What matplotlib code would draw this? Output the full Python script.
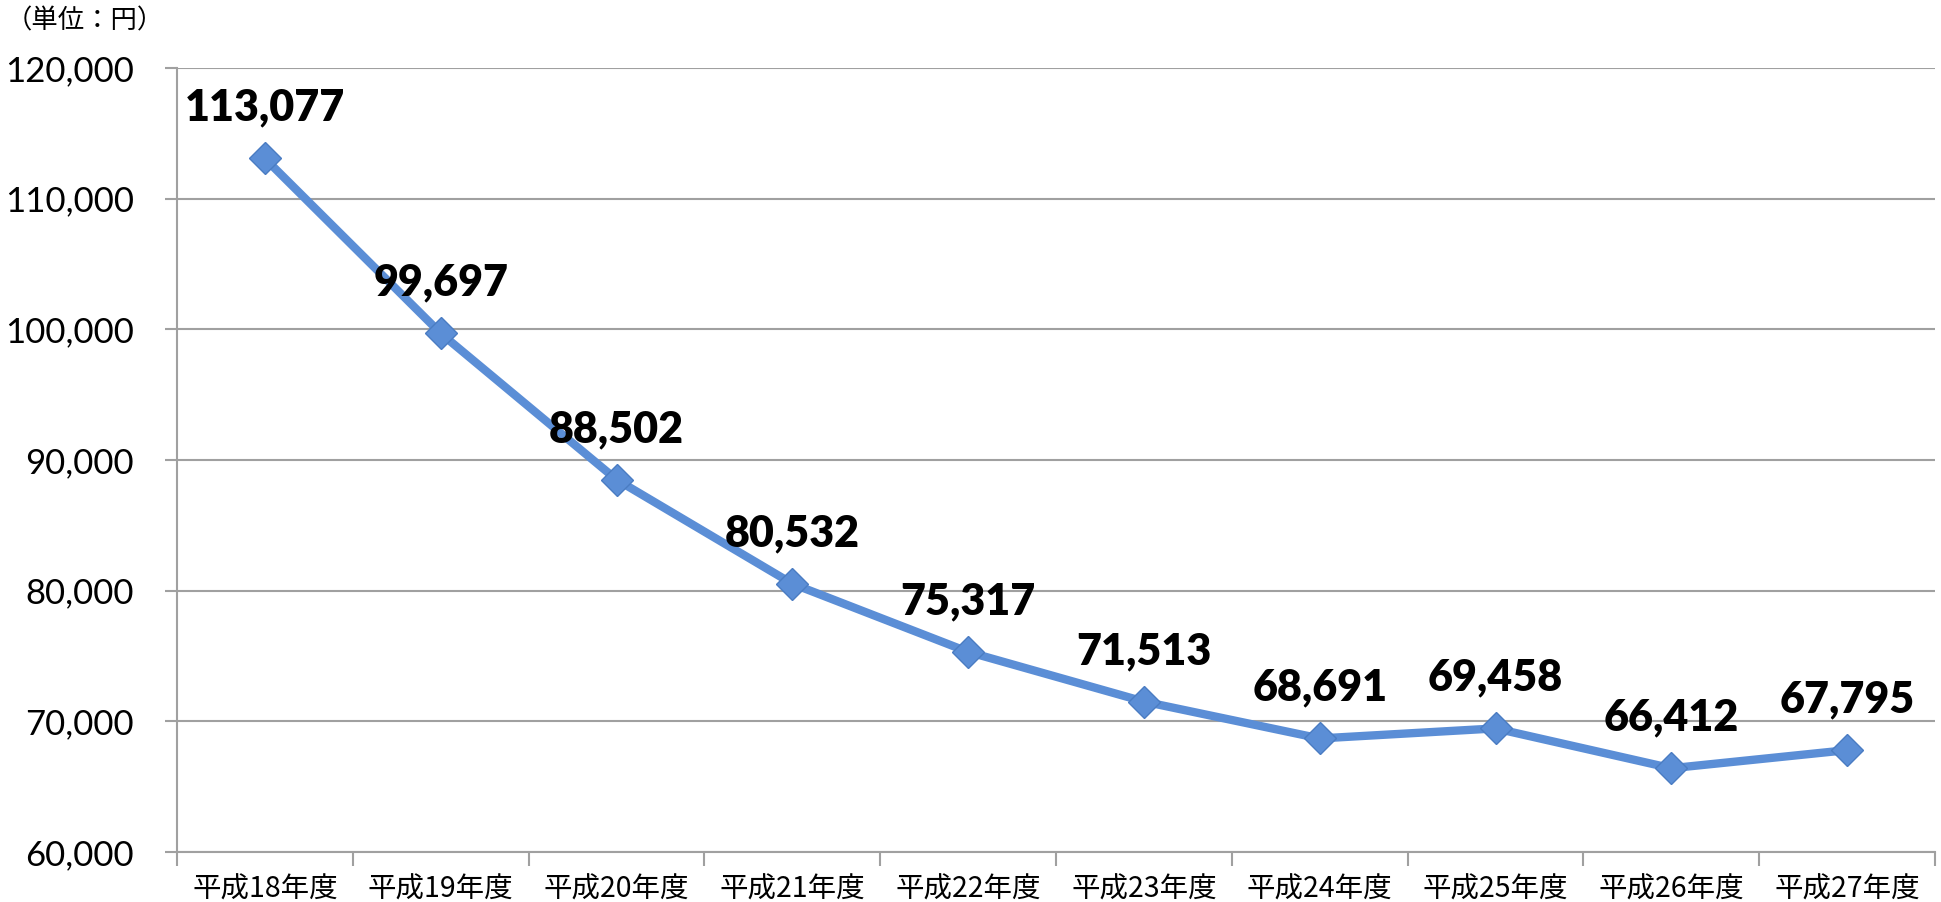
import numpy as np
import matplotlib.pyplot as plt
from matplotlib.ticker import FuncFormatter

# Data
years = ['平成18年度', '平成19年度', '平成20年度', '平成21年度', '平成22年度',
         '平成23年度', '平成24年度', '平成25年度', '平成26年度', '平成27年度']
values = [113077, 99697, 88502, 80532, 75317, 71513, 68691, 69458, 66412, 67795]

plt.rcParams['font.family'] = ['Noto Sans CJK JP', 'DejaVu Sans']

fig = plt.figure(figsize=(19.41, 9.02), dpi=100)
ax = fig.add_axes([177 / 1941, 1 - 852 / 902, (1935 - 177) / 1941, (852 - 68) / 902])

x = np.arange(len(years))
ax.plot(x, values, color='#5B8ED6', linewidth=6, marker='D', markersize=16,
        markerfacecolor='#5B8ED6', markeredgecolor='#4A7CC2', zorder=3)

# Data labels
for xi, v in zip(x, values):
    ax.annotate(f'{v:,}', (xi, v), xytext=(0, 22), textcoords='offset points',
                ha='center', va='bottom', fontsize=31, fontweight='heavy',
                family=['Lato', 'DejaVu Sans'], color='black')

ax.set_xlim(-0.5, len(years) - 0.5)
ax.set_ylim(60000, 120000)
ax.set_yticks(np.arange(60000, 120001, 10000))
ax.yaxis.set_major_formatter(FuncFormatter(lambda v, p: f'{int(v):,}'))
ax.grid(axis='y', color='#A0A0A0', linewidth=1.5)
ax.set_axisbelow(True)

# Category boundaries as ticks, labels at the centres
ax.set_xticks(np.arange(-0.5, len(years)), minor=False)
ax.set_xticklabels([])
ax.set_xticks(x, minor=True)
ax.set_xticklabels(years, minor=True, fontsize=20.5)
ax.tick_params(axis='x', which='major', length=10, width=1.5, color='#A0A0A0')
ax.tick_params(axis='x', which='minor', length=0, pad=16)
ax.tick_params(axis='y', length=9, width=1.5, color='#A0A0A0', pad=22)
for lbl in ax.get_yticklabels():
    lbl.set_family(['Lato', 'DejaVu Sans'])
    lbl.set_fontsize(25)

for side in ['top', 'right']:
    ax.spines[side].set_visible(False)
for side in ['left', 'bottom']:
    ax.spines[side].set_color('#A0A0A0')
    ax.spines[side].set_linewidth(1.5)

fig.text(0.003, 0.977, '（単位：円）', fontsize=19, ha='left', va='center')

fig.savefig('out.png', dpi=100)
